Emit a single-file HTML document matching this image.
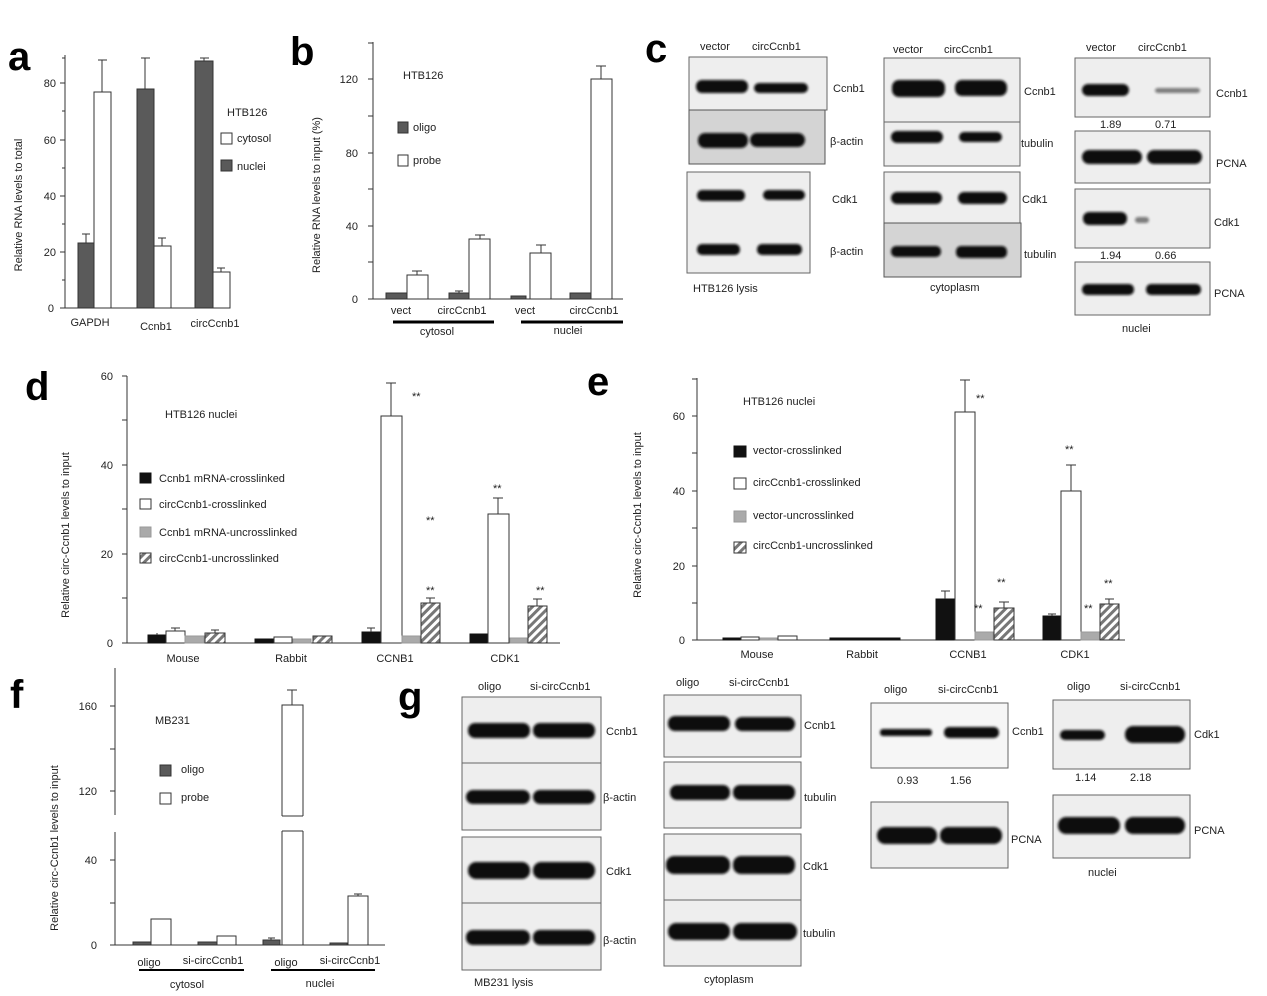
<!DOCTYPE html>
<html><head><meta charset="utf-8"><style>
html,body{margin:0;padding:0;background:#fff}
svg{display:block;font-family:"Liberation Sans",sans-serif}
text{fill:#222}
.t{font-size:11px}
.L{font-size:40px;font-weight:bold;fill:#000}
.ax{stroke:#333;stroke-width:1;fill:none}
.bd{fill:#5a5a5a;stroke:#333}
.bw{fill:#fff;stroke:#333}
.bk{fill:#111;stroke:#111}
.bg{fill:#aaa;stroke:#999}
.bh{fill:url(#hatch);stroke:#333}
.er{stroke:#333;fill:none}
.box{fill:#eee;stroke:#666}
.boxd{fill:#d4d4d4;stroke:#555}
.band{fill:#111;filter:url(#bl)}
</style></head><body>
<svg width="1267" height="996" viewBox="0 0 1267 996" xmlns="http://www.w3.org/2000/svg">
<defs>
<filter id="bl" x="-20%" y="-50%" width="140%" height="200%"><feGaussianBlur stdDeviation="1.3"/></filter>
<pattern id="hatch" width="6" height="6" patternUnits="userSpaceOnUse" patternTransform="rotate(45)"><rect width="6" height="6" fill="#fff"/><rect width="3" height="6" fill="#777"/></pattern>
</defs>

<!-- letters -->
<text class="L" x="8" y="70">a</text>
<text class="L" x="290" y="65">b</text>
<text class="L" x="645" y="62">c</text>
<text class="L" x="25" y="400">d</text>
<text class="L" x="587" y="395">e</text>
<text class="L" x="10" y="708">f</text>
<text class="L" x="398" y="710">g</text>

<!-- Panel a -->
<g>
<path class="ax" d="M65,55V308H230 M60,308H65 M60,252H65 M60,196H65 M60,140H65 M60,83H65 M62,280H65 M62,224H65 M62,168H65 M62,111H65 M62,58H65"/>
<g class="t"><text x="54" y="312" text-anchor="end">0</text><text x="56" y="256" text-anchor="end">20</text><text x="56" y="200" text-anchor="end">40</text><text x="56" y="144" text-anchor="end">60</text><text x="56" y="87" text-anchor="end">80</text></g>
<text class="t" transform="translate(22,205) rotate(-90)" text-anchor="middle">Relative RNA levels to total</text>
<rect class="bd" x="78" y="243" width="16" height="65"/><path class="er" d="M86,243V234M82,234H90"/>
<rect class="bw" x="94" y="92" width="17" height="216"/><path class="er" d="M102,92V60M98,60H107"/>
<rect class="bd" x="137" y="89" width="17" height="219"/><path class="er" d="M145,89V58M141,58H150"/>
<rect class="bw" x="154" y="246" width="17" height="62"/><path class="er" d="M162,246V238M158,238H166"/>
<rect class="bd" x="195" y="61" width="18" height="247"/><path class="er" d="M204,61V58M200,58H209"/>
<rect class="bw" x="213" y="272" width="17" height="36"/><path class="er" d="M221,272V268M217,268H225"/>
<g class="t"><text x="90" y="326" text-anchor="middle">GAPDH</text><text x="156" y="330" text-anchor="middle">Ccnb1</text><text x="215" y="327" text-anchor="middle">circCcnb1</text>
<text x="227" y="116">HTB126</text><text x="237" y="142">cytosol</text><text x="237" y="170">nuclei</text></g>
<rect class="bw" x="221" y="133" width="11" height="11"/><rect class="bd" x="221" y="160" width="11" height="11"/>
</g>

<!-- Panel b -->
<g>
<path class="ax" d="M373,42V299H623 M368,299H373 M368,262H373 M368,226H373 M368,189H373 M368,153H373 M368,116H373 M368,79H373 M368,43H373"/>
<g class="t"><text x="358" y="303" text-anchor="end">0</text><text x="358" y="230" text-anchor="end">40</text><text x="358" y="157" text-anchor="end">80</text><text x="358" y="83" text-anchor="end">120</text></g>
<text class="t" transform="translate(320,195) rotate(-90)" text-anchor="middle">Relative RNA levels to input (%)</text>
<rect class="bd" x="386" y="293" width="21" height="6"/>
<rect class="bw" x="407" y="275" width="21" height="24"/><path class="er" d="M417,275V271M412,271H422"/>
<rect class="bd" x="449" y="293" width="20" height="6"/><path class="er" d="M459,293V291M455,291H463"/>
<rect class="bw" x="469" y="239" width="21" height="60"/><path class="er" d="M480,239V235M475,235H485"/>
<rect class="bd" x="511" y="296" width="15" height="3"/>
<rect class="bw" x="530" y="253" width="21" height="46"/><path class="er" d="M541,253V245M536,245H546"/>
<rect class="bd" x="570" y="293" width="21" height="6"/>
<rect class="bw" x="591" y="79" width="21" height="220"/><path class="er" d="M601,79V66M596,66H606"/>
<g class="t"><text x="401" y="314" text-anchor="middle">vect</text><text x="462" y="314" text-anchor="middle">circCcnb1</text><text x="525" y="314" text-anchor="middle">vect</text><text x="594" y="314" text-anchor="middle">circCcnb1</text>
<text x="437" y="335" text-anchor="middle">cytosol</text><text x="568" y="334" text-anchor="middle">nuclei</text>
<text x="403" y="79">HTB126</text><text x="413" y="131">oligo</text><text x="413" y="164">probe</text></g>
<path d="M393,322H494M521,322H623" stroke="#000" stroke-width="3"/>
<rect class="bd" x="398" y="122" width="10" height="11"/><rect class="bw" x="398" y="155" width="10" height="11"/>
</g>

<!-- Panel c blots -->
<g class="t">
<text x="700" y="50">vector</text><text x="752" y="50">circCcnb1</text>
<rect class="box" x="689" y="57" width="138" height="53"/><rect class="boxd" x="689" y="110" width="136" height="54"/>
<rect class="box" x="687" y="172" width="123" height="101"/>
<rect class="band" x="696" y="80" width="52" height="13" rx="6"/><rect class="band" x="754" y="83" width="54" height="10" rx="5"/>
<rect class="band" x="698" y="133" width="50" height="15" rx="7"/><rect class="band" x="750" y="133" width="55" height="14" rx="7"/>
<rect class="band" x="697" y="190" width="48" height="11" rx="5"/><rect class="band" x="763" y="190" width="42" height="10" rx="5"/>
<rect class="band" x="697" y="244" width="43" height="11" rx="5"/><rect class="band" x="757" y="244" width="45" height="11" rx="5"/>
<text x="833" y="92">Ccnb1</text><text x="830" y="145">β-actin</text><text x="832" y="203">Cdk1</text><text x="830" y="255">β-actin</text><text x="693" y="292">HTB126 lysis</text>

<text x="893" y="53">vector</text><text x="944" y="53">circCcnb1</text>
<rect class="box" x="884" y="58" width="136" height="64"/><rect class="box" x="884" y="122" width="136" height="44"/>
<rect class="box" x="884" y="172" width="136" height="51"/><rect class="boxd" x="884" y="223" width="137" height="54"/>
<rect class="band" x="892" y="80" width="53" height="17" rx="7"/><rect class="band" x="955" y="80" width="52" height="16" rx="7"/>
<rect class="band" x="891" y="131" width="52" height="12" rx="6"/><rect class="band" x="959" y="132" width="43" height="10" rx="5"/>
<rect class="band" x="891" y="192" width="51" height="12" rx="6"/><rect class="band" x="958" y="192" width="49" height="12" rx="6"/>
<rect class="band" x="891" y="246" width="50" height="11" rx="5"/><rect class="band" x="956" y="246" width="51" height="12" rx="5"/>
<text x="1024" y="95">Ccnb1</text><text x="1021" y="147">tubulin</text><text x="1022" y="203">Cdk1</text><text x="1024" y="258">tubulin</text><text x="930" y="291">cytoplasm</text>

<text x="1086" y="51">vector</text><text x="1138" y="51">circCcnb1</text>
<rect class="box" x="1075" y="58" width="135" height="59"/><rect class="box" x="1075" y="131" width="135" height="52"/>
<rect class="box" x="1075" y="189" width="135" height="59"/><rect class="box" x="1075" y="262" width="135" height="53"/>
<rect class="band" x="1082" y="84" width="47" height="12" rx="6"/><rect class="band" x="1155" y="88" width="45" height="5" rx="3" style="opacity:.5"/>
<rect class="band" x="1082" y="150" width="60" height="14" rx="7"/><rect class="band" x="1147" y="150" width="55" height="14" rx="7"/>
<rect class="band" x="1083" y="212" width="44" height="13" rx="6"/><rect class="band" x="1135" y="217" width="14" height="6" rx="3" style="opacity:.5"/>
<rect class="band" x="1082" y="284" width="52" height="11" rx="5"/><rect class="band" x="1146" y="284" width="55" height="11" rx="5"/>
<text x="1216" y="97">Ccnb1</text><text x="1216" y="167">PCNA</text><text x="1214" y="226">Cdk1</text><text x="1214" y="297">PCNA</text>
<text x="1100" y="128">1.89</text><text x="1155" y="128">0.71</text><text x="1100" y="259">1.94</text><text x="1155" y="259">0.66</text><text x="1122" y="332">nuclei</text>
</g>

<!-- Panel d -->
<g>
<path class="ax" d="M127,376V643H560 M122,643H127 M122,598H127 M122,554H127 M122,509H127 M122,465H127 M122,420H127 M122,376H127"/>
<g class="t"><text x="113" y="647" text-anchor="end">0</text><text x="113" y="558" text-anchor="end">20</text><text x="113" y="469" text-anchor="end">40</text><text x="113" y="380" text-anchor="end">60</text></g>
<text class="t" transform="translate(69,535) rotate(-90)" text-anchor="middle">Relative circ-Ccnb1 levels to input</text>
<rect class="bk" x="148" y="635" width="18" height="8"/><rect class="bw" x="166" y="631" width="19" height="12"/><rect class="bg" x="185" y="636" width="19" height="7"/><rect class="bh" x="205" y="633" width="20" height="10"/>
<path class="er" d="M157,635V633M175,631V628M171,628H180M215,633V630M211,630H219"/>
<rect class="bk" x="255" y="639" width="18" height="4"/><rect class="bw" x="274" y="637" width="18" height="6"/><rect class="bg" x="293" y="639" width="18" height="4"/><rect class="bh" x="313" y="636" width="19" height="7"/>
<rect class="bk" x="362" y="632" width="19" height="11"/><path class="er" d="M371,632V628M367,628H375"/>
<rect class="bw" x="381" y="416" width="21" height="227"/><path class="er" d="M391,416V383M386,383H396"/>
<rect class="bg" x="402" y="636" width="18" height="7"/>
<rect class="bh" x="421" y="603" width="19" height="40"/><path class="er" d="M430,603V598M426,598H435"/>
<rect class="bk" x="470" y="634" width="18" height="9"/>
<rect class="bw" x="488" y="514" width="21" height="129"/><path class="er" d="M498,514V498M493,498H503"/>
<rect class="bg" x="510" y="638" width="17" height="5"/>
<rect class="bh" x="528" y="606" width="19" height="37"/><path class="er" d="M537,606V599M533,599H542"/>
<g class="t"><text x="412" y="400">**</text><text x="426" y="524">**</text><text x="426" y="594">**</text><text x="493" y="492">**</text><text x="536" y="594">**</text>
<text x="183" y="662" text-anchor="middle">Mouse</text><text x="291" y="662" text-anchor="middle">Rabbit</text><text x="395" y="662" text-anchor="middle">CCNB1</text><text x="505" y="662" text-anchor="middle">CDK1</text>
<text x="165" y="418">HTB126 nuclei</text><text x="159" y="482">Ccnb1 mRNA-crosslinked</text><text x="159" y="508">circCcnb1-crosslinked</text><text x="159" y="536">Ccnb1 mRNA-uncrosslinked</text><text x="159" y="562">circCcnb1-uncrosslinked</text></g>
<rect class="bk" x="140" y="473" width="11" height="10"/><rect class="bw" x="140" y="499" width="11" height="10"/><rect class="bg" x="140" y="527" width="11" height="10"/><rect class="bh" x="140" y="553" width="11" height="10"/>
</g>

<!-- Panel e -->
<g>
<path class="ax" d="M697,378V640H1125 M692,640H697 M692,603H697 M692,566H697 M692,528H697 M692,491H697 M692,453H697 M692,416H697 M692,379H697"/>
<g class="t"><text x="685" y="644" text-anchor="end">0</text><text x="685" y="570" text-anchor="end">20</text><text x="685" y="495" text-anchor="end">40</text><text x="685" y="420" text-anchor="end">60</text></g>
<text class="t" transform="translate(641,515) rotate(-90)" text-anchor="middle">Relative circ-Ccnb1 levels to input</text>
<rect class="bk" x="723" y="638" width="17" height="2"/><rect class="bw" x="741" y="637" width="18" height="3"/><rect class="bg" x="760" y="638" width="17" height="2"/><rect class="bw" x="778" y="636" width="19" height="4"/>
<rect class="bk" x="830" y="638" width="70" height="2"/>
<rect class="bk" x="936" y="599" width="19" height="41"/><path class="er" d="M945,599V591M941,591H950"/>
<rect class="bw" x="955" y="412" width="20" height="228"/><path class="er" d="M965,412V380M960,380H970"/>
<rect class="bg" x="975" y="632" width="18" height="8"/>
<rect class="bh" x="994" y="608" width="20" height="32"/><path class="er" d="M1004,608V602M999,602H1009"/>
<rect class="bk" x="1043" y="616" width="18" height="24"/><path class="er" d="M1052,616V614M1048,614H1056"/>
<rect class="bw" x="1061" y="491" width="20" height="149"/><path class="er" d="M1071,491V465M1066,465H1076"/>
<rect class="bg" x="1081" y="632" width="19" height="8"/>
<rect class="bh" x="1100" y="604" width="19" height="36"/><path class="er" d="M1109,604V599M1105,599H1114"/>
<g class="t"><text x="976" y="402">**</text><text x="974" y="612">**</text><text x="997" y="586">**</text><text x="1065" y="453">**</text><text x="1084" y="612">**</text><text x="1104" y="587">**</text>
<text x="757" y="658" text-anchor="middle">Mouse</text><text x="862" y="658" text-anchor="middle">Rabbit</text><text x="968" y="658" text-anchor="middle">CCNB1</text><text x="1075" y="658" text-anchor="middle">CDK1</text>
<text x="743" y="405">HTB126 nuclei</text><text x="753" y="454">vector-crosslinked</text><text x="753" y="486">circCcnb1-crosslinked</text><text x="753" y="519">vector-uncrosslinked</text><text x="753" y="549">circCcnb1-uncrosslinked</text></g>
<rect class="bk" x="734" y="446" width="12" height="11"/><rect class="bw" x="734" y="478" width="12" height="11"/><rect class="bg" x="734" y="511" width="12" height="11"/><rect class="bh" x="734" y="542" width="12" height="11"/>
</g>

<!-- Panel f -->
<g>
<path class="ax" d="M115,668V815 M115,832V945H385 M110,945H115 M110,903H115 M110,860H115 M110,791H115 M110,749H115 M110,706H115"/>
<g class="t"><text x="97" y="949" text-anchor="end">0</text><text x="97" y="864" text-anchor="end">40</text><text x="97" y="795" text-anchor="end">120</text><text x="97" y="710" text-anchor="end">160</text></g>
<text class="t" transform="translate(58,848) rotate(-90)" text-anchor="middle">Relative circ-Ccnb1 levels to input</text>
<rect class="bd" x="133" y="942" width="18" height="3"/><rect class="bw" x="151" y="919" width="20" height="26"/>
<rect class="bd" x="198" y="942" width="19" height="3"/><rect class="bw" x="217" y="936" width="19" height="9"/>
<rect class="bd" x="263" y="940" width="17" height="5"/><path class="er" d="M271,940V938M268,938H275"/>
<rect class="bw" x="282" y="705" width="21" height="240"/><path class="er" d="M292,705V690M287,690H297"/>
<rect x="280" y="816" width="26" height="15" fill="#fff"/>
<path class="er" d="M282,816H303M282,831H303"/>
<rect class="bd" x="330" y="943" width="17" height="2"/><rect class="bw" x="348" y="896" width="20" height="49"/><path class="er" d="M358,896V894M354,894H362"/>
<g class="t"><text x="149" y="966" text-anchor="middle">oligo</text><text x="213" y="964" text-anchor="middle">si-circCcnb1</text><text x="286" y="966" text-anchor="middle">oligo</text><text x="350" y="964" text-anchor="middle">si-circCcnb1</text>
<text x="187" y="988" text-anchor="middle">cytosol</text><text x="320" y="987" text-anchor="middle">nuclei</text>
<text x="155" y="724">MB231</text><text x="181" y="773">oligo</text><text x="181" y="801">probe</text></g>
<path d="M139,970H244M271,970H375" stroke="#000" stroke-width="2"/>
<rect class="bd" x="160" y="765" width="11" height="11"/><rect class="bw" x="160" y="793" width="11" height="11"/>
</g>

<!-- Panel g blots -->
<g class="t">
<text x="478" y="690">oligo</text><text x="530" y="690">si-circCcnb1</text>
<rect class="box" x="462" y="697" width="139" height="66"/><rect class="box" x="462" y="763" width="139" height="67"/><rect class="box" x="462" y="837" width="139" height="66"/><rect class="box" x="462" y="903" width="139" height="67"/>
<rect class="band" x="468" y="723" width="62" height="15" rx="7"/><rect class="band" x="533" y="723" width="62" height="15" rx="7"/>
<rect class="band" x="466" y="790" width="64" height="14" rx="7"/><rect class="band" x="533" y="790" width="62" height="14" rx="7"/>
<rect class="band" x="468" y="862" width="62" height="17" rx="8"/><rect class="band" x="533" y="862" width="62" height="17" rx="8"/>
<rect class="band" x="466" y="930" width="64" height="15" rx="7"/><rect class="band" x="533" y="930" width="62" height="15" rx="7"/>
<text x="606" y="735">Ccnb1</text><text x="603" y="801">β-actin</text><text x="606" y="875">Cdk1</text><text x="603" y="944">β-actin</text><text x="474" y="986">MB231 lysis</text>

<text x="676" y="686">oligo</text><text x="729" y="686">si-circCcnb1</text>
<rect class="box" x="664" y="695" width="137" height="62"/><rect class="box" x="664" y="762" width="137" height="66"/><rect class="box" x="664" y="834" width="137" height="66"/><rect class="box" x="664" y="900" width="137" height="66"/>
<rect class="band" x="668" y="716" width="62" height="15" rx="7"/><rect class="band" x="735" y="717" width="60" height="14" rx="7"/>
<rect class="band" x="670" y="785" width="60" height="15" rx="7"/><rect class="band" x="733" y="785" width="62" height="15" rx="7"/>
<rect class="band" x="666" y="856" width="64" height="18" rx="8"/><rect class="band" x="733" y="856" width="62" height="18" rx="8"/>
<rect class="band" x="668" y="923" width="62" height="17" rx="8"/><rect class="band" x="733" y="923" width="64" height="17" rx="8"/>
<text x="804" y="729">Ccnb1</text><text x="804" y="801">tubulin</text><text x="803" y="870">Cdk1</text><text x="803" y="937">tubulin</text><text x="704" y="983">cytoplasm</text>

<text x="884" y="693">oligo</text><text x="938" y="693">si-circCcnb1</text>
<rect class="box" x="871" y="703" width="137" height="65" style="fill:#f6f6f6"/><rect class="box" x="871" y="802" width="137" height="66"/>
<rect class="band" x="880" y="729" width="52" height="7" rx="3"/><rect class="band" x="944" y="727" width="55" height="11" rx="5"/>
<rect class="band" x="877" y="827" width="60" height="17" rx="8"/><rect class="band" x="940" y="827" width="62" height="17" rx="8"/>
<text x="1012" y="735">Ccnb1</text><text x="1011" y="843">PCNA</text><text x="897" y="784">0.93</text><text x="950" y="784">1.56</text>

<text x="1067" y="690">oligo</text><text x="1120" y="690">si-circCcnb1</text>
<rect class="box" x="1053" y="700" width="137" height="69"/><rect class="box" x="1053" y="795" width="137" height="63"/>
<rect class="band" x="1060" y="730" width="45" height="10" rx="5"/><rect class="band" x="1125" y="726" width="60" height="17" rx="8"/>
<rect class="band" x="1058" y="817" width="62" height="17" rx="8"/><rect class="band" x="1125" y="817" width="60" height="17" rx="8"/>
<text x="1194" y="738">Cdk1</text><text x="1194" y="834">PCNA</text><text x="1075" y="781">1.14</text><text x="1130" y="781">2.18</text><text x="1088" y="876">nuclei</text>
</g>
</svg>
</body></html>
